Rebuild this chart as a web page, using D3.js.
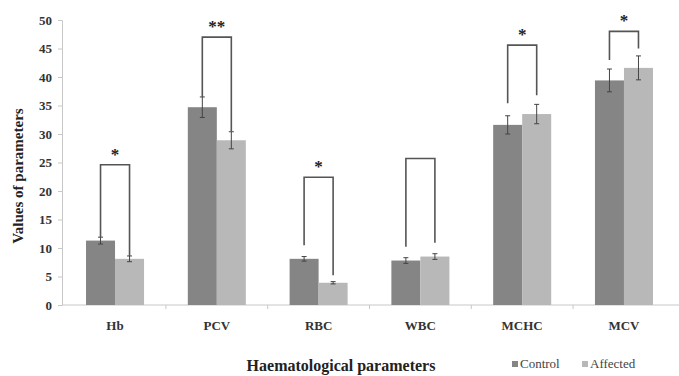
<!DOCTYPE html>
<html><head><meta charset="utf-8">
<script src="https://cdn.jsdelivr.net/npm/d3@7"></script>
<style>body{margin:0;background:#fff}svg{display:block}</style>
</head><body>
<script>
const categories = ["Hb","PCV","RBC","WBC","MCHC","MCV"];
const seriesNames = ["Control","Affected"];
const controlValues = [11.3, 34.7, 8.1, 7.8, 31.6, 39.4];
const controlErrors = [0.6, 1.8, 0.4, 0.5, 1.6, 2.0];
const affectedValues = [8.1, 28.9, 3.9, 8.5, 33.5, 41.6];
const affectedErrors = [0.5, 1.5, 0.2, 0.5, 1.7, 2.1];
const bracketTop = [24.6, 47.0, 22.4, 25.7, 45.6, 48.0];
const bracketLeftEnd = [11.9, 36.5, 10.5, 10.2, 35.4, 43.0];
const bracketRightEnd = [8.6, 30.5, 5.2, 10.9, 36.8, 45.0];
const significance = ["*","**","*","","*","*"];
const yTicks = [0,5,10,15,20,25,30,35,40,45,50];

const W = 679, H = 376;
const margin = {left:62, right:2, top:20, bottom:71};
const svg = d3.select("body").append("svg").attr("width",W).attr("height",H);
const x = d3.scaleBand().domain(categories).range([margin.left, W - margin.right]).paddingInner(0.43).paddingOuter(0.236);
const xs = d3.scaleBand().domain(seriesNames).range([0, x.bandwidth()]);
const y = d3.scaleLinear().domain([0,50]).range([H - margin.bottom, margin.top]);
const colors = {Control:"#858585", Affected:"#b8b8b8"};
const font = "'Liberation Serif','Times New Roman',serif";

// y axis
const ya = svg.append("g").attr("transform",`translate(${margin.left},0)`)
  .call(d3.axisLeft(y).tickValues(yTicks).tickSize(4).tickPadding(6));
ya.select(".domain").attr("stroke","#c8c8c8");
ya.selectAll(".tick line").attr("stroke","#c8c8c8");
ya.selectAll(".tick text").attr("font-family",font).attr("font-weight","bold").attr("font-size",13).attr("fill","#333");

// x axis
const xa = svg.append("g").attr("transform",`translate(0,${y(0)})`);
xa.append("line").attr("x1",margin.left).attr("x2",W).attr("stroke","#c8c8c8");
categories.forEach((c,i)=>{
  if (i < categories.length-1) {
    const bx = (x(c)+x.bandwidth() + x(categories[i+1]))/2;
    xa.append("line").attr("x1",bx).attr("x2",bx).attr("y1",0).attr("y2",4).attr("stroke","#c8c8c8");
  }
  xa.append("text").attr("x",x(c)+x.bandwidth()/2).attr("y",25).attr("text-anchor","middle")
    .attr("font-family",font).attr("font-weight","bold").attr("font-size",13).attr("fill","#333").text(c);
});

const data = categories.map((c,i)=>({c, vals:[
  {s:"Control", v:controlValues[i], e:controlErrors[i]},
  {s:"Affected", v:affectedValues[i], e:affectedErrors[i]}]}));

const g = svg.append("g").selectAll("g").data(data).join("g").attr("transform",d=>`translate(${x(d.c)},0)`);
g.selectAll("rect").data(d=>d.vals).join("rect")
  .attr("x",d=>xs(d.s)).attr("width",xs.bandwidth())
  .attr("y",d=>y(d.v)).attr("height",d=>y(0)-y(d.v)).attr("fill",d=>colors[d.s]);
// error bars
const eb = g.selectAll("g.err").data(d=>d.vals).join("g").attr("class","err");
eb.append("line").attr("x1",d=>xs(d.s)+xs.bandwidth()/2).attr("x2",d=>xs(d.s)+xs.bandwidth()/2)
  .attr("y1",d=>y(d.v+d.e)).attr("y2",d=>y(d.v-d.e)).attr("stroke","#444").attr("stroke-width",1);
["+","-"].forEach(sg=>{
  eb.append("line").attr("x1",d=>xs(d.s)+xs.bandwidth()/2-2.5).attr("x2",d=>xs(d.s)+xs.bandwidth()/2+2.5)
    .attr("y1",d=>y(sg=="+"?d.v+d.e:d.v-d.e)).attr("y2",d=>y(sg=="+"?d.v+d.e:d.v-d.e)).attr("stroke","#444");
});

// brackets
categories.forEach((c,i)=>{
  const lx = x(c)+xs("Control")+xs.bandwidth()/2;
  const rx = x(c)+xs("Affected")+xs.bandwidth()/2;
  svg.append("path").attr("d",`M${lx},${y(bracketLeftEnd[i])}V${y(bracketTop[i])}H${rx}V${y(bracketRightEnd[i])}`)
    .attr("fill","none").attr("stroke","#555").attr("stroke-width",1.6);
  if (significance[i]) svg.append("text").attr("x",(lx+rx)/2).attr("y",y(bracketTop[i])-5)
    .attr("text-anchor","middle").attr("font-family",font).attr("font-weight","bold").attr("font-size",17).attr("fill","#222")
    .text(significance[i]);
});

// titles
svg.append("text").attr("transform",`translate(23,176) rotate(-90)`).attr("text-anchor","middle")
  .attr("font-family",font).attr("font-weight","bold").attr("font-size",15).attr("fill","#222").text("Values of parameters");
svg.append("text").attr("x",341).attr("y",371).attr("text-anchor","middle")
  .attr("font-family",font).attr("font-weight","bold").attr("font-size",16).attr("fill","#222").text("Haematological parameters");

// legend
const leg = svg.append("g").attr("transform","translate(512,368)");
seriesNames.forEach((s,i)=>{
  const lx = i*70;
  leg.append("rect").attr("x",lx).attr("y",-7).attr("width",6).attr("height",6).attr("fill",colors[s]);
  leg.append("text").attr("x",lx+8).attr("y",0).attr("font-family",font).attr("font-size",13).attr("fill","#444").text(s);
});
</script>
</body></html>
